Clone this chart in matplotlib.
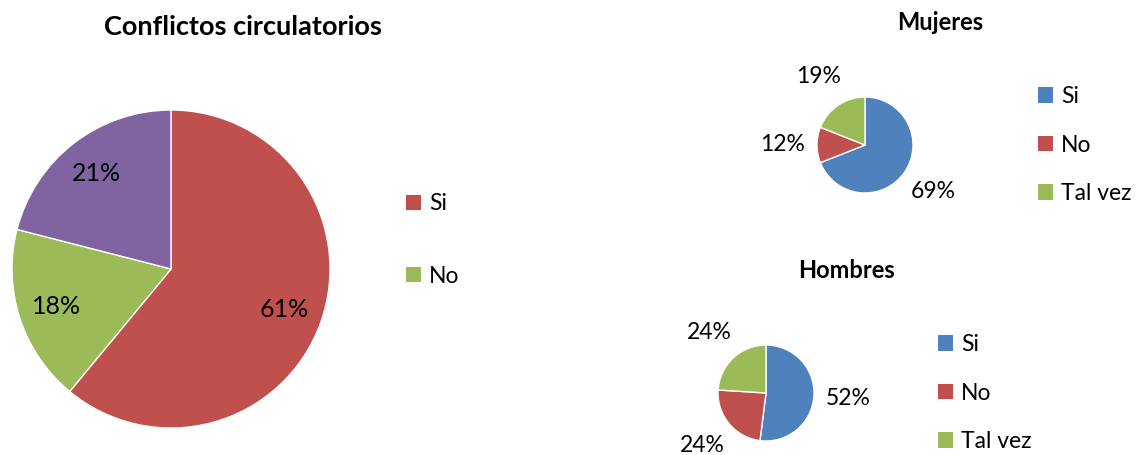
import matplotlib.pyplot as plt
from matplotlib.patches import Patch

plt.rcParams['font.family'] = ['Lato', 'DejaVu Sans']

# data
main_title = "Conflictos circulatorios"
main_labels = ["Si", "No", ""]
main_values = [61, 18, 21]
main_colors = ["#C0504D", "#9BBB59", "#8064A2"]

sub_labels = ["Si", "No", "Tal vez"]
sub_colors = ["#4F81BD", "#C0504D", "#9BBB59"]
mujeres_values = [69, 12, 19]
hombres_values = [52, 24, 24]

W, H = 1136, 455
fig = plt.figure(figsize=(W / 100, H / 100), dpi=100)


def pie_axes(cx, cy, r):
    # axes box in pixel coords, square around the pie
    ax = fig.add_axes([(cx - r) / W, 1 - (cy + r) / H, 2 * r / W, 2 * r / H])
    return ax


def draw_pie(ax, values, colors, pctdist, fsize):
    wedges, texts, autotexts = ax.pie(
        values, colors=colors, startangle=90, counterclock=False,
        autopct='%1.0f%%', pctdistance=pctdist,
        wedgeprops=dict(edgecolor='white', linewidth=1),
        textprops=dict(fontsize=fsize, color='black'))
    ax.set_xlim(-1, 1)
    ax.set_ylim(-1, 1)
    return wedges


def add_legend(labels, colors, x, y, spacing, fsize=16.5):
    handles = [Patch(facecolor=c, edgecolor='none') for c in colors]
    fig.legend(handles, labels, loc='center left',
               bbox_to_anchor=(x / W, 1 - y / H), frameon=False,
               fontsize=fsize, handlelength=0.65, handleheight=0.65,
               handletextpad=0.35, labelspacing=spacing,
               borderpad=0, borderaxespad=0)


# big pie
ax1 = pie_axes(171, 269, 159)
draw_pie(ax1, main_values, main_colors, 0.76, 18)
fig.text(243 / W, 1 - 27 / H, main_title, ha='center', va='center',
         fontsize=19.5, fontweight='bold')
add_legend(main_labels[:2], main_colors[:2], 406, 240, 2.25)

# Mujeres
ax2 = pie_axes(865, 145, 48)
draw_pie(ax2, mujeres_values, sub_colors, 1.72, 16.5)
fig.text(940 / W, 1 - 22 / H, "Mujeres", ha='center', va='center',
         fontsize=17, fontweight='bold')
add_legend(sub_labels, sub_colors, 1038, 145, 1.2)

# Hombres
ax3 = pie_axes(766, 393, 48)
draw_pie(ax3, hombres_values, sub_colors, 1.72, 16.5)
fig.text(846 / W, 1 - 270 / H, "Hombres", ha='center', va='center',
         fontsize=17, fontweight='bold')
add_legend(sub_labels, sub_colors, 938, 393, 1.2)

fig.savefig('out.png', dpi=100, facecolor='white')
